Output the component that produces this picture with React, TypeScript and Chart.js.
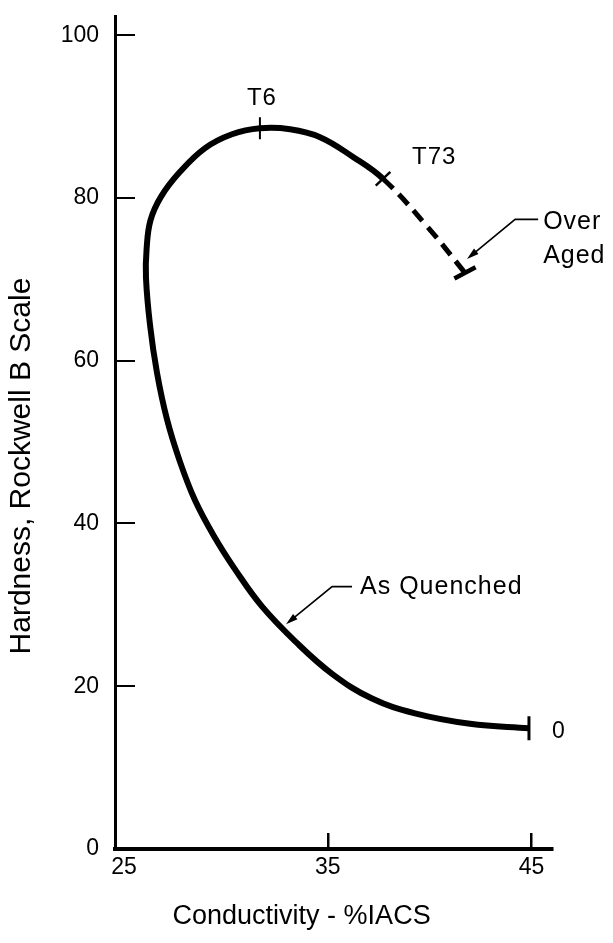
import React, { useEffect, useRef } from "react";
import { Chart, registerables } from "chart.js";

Chart.register(...registerables);

// Curve: from "0" (as quenched) through T6, T73 to over aged
const conductivity = [
  44.87, 41.98, 39.28, 37.17, 35.21, 33.39, 31.77, 30.5, 29.42, 28.49, 27.75, 27.11, 26.62, 26.28,
  26.08, 26.11, 26.3, 26.82, 27.75, 28.98, 30.3, 31.67, 33.15, 34.62, 36.24, 37.71, 39.87, 41.73,
];
const hardness = [
  14.84, 15.39, 16.67, 18.49, 21.53, 25.55, 29.81, 34.18, 38.44, 42.82, 47.57, 52.8, 58.52, 64.36,
  70.19, 73.72, 77.25, 80.17, 83.21, 86.13, 87.83, 88.56, 88.44, 87.47, 85.04, 82.36, 76.52, 70.8,
];

// Temper marks on the curve (indices into the curve arrays)
const temperIndex = [0, 21, 25, 27];
const temperLabels = ["0", "T6", "T73", ""];
const overAgedStart = 25; // dashed from T73 on

const xTicks = [25, 35, 45];
const yTicks = [0, 20, 40, 60, 80, 100];

const xTitle = "Conductivity - %IACS";
const yTitle = "Hardness, Rockwell B Scale";

// Leader annotations (data coordinates)
const leaderTexts = [["Over", "Aged"], ["As Quenched"]];
const leaderTip = [[41.83, 72.51], [32.95, 27.62]];
const leaderElbow = [[44.19, 77.37], [35.21, 32.24]];
const leaderEnd = [45.32, 36.19];

const FONT = '"Liberation Sans", Arial, Helvetica, sans-serif';

const markerRadius = [12, 11, 10, 12];
const markerRotation = [90, 90, -43, -28];
const markerWidth = [3, 2, 2.5, 4.5];

const labelStyle = [
  { dx: 23, dy: 3, align: "left", size: 23 },
  { dx: 2, dy: -30, align: "center", size: 24 },
  { dx: 29, dy: -21, align: "left", size: 24 },
  { dx: 0, dy: 0, align: "left", size: 24 },
];
const leaderTextOffset = [
  { dx: 5, dy: 3, gap: 34 },
  { dx: 8, dy: 0, gap: 0 },
];

const annotationPlugin = {
  id: "annotations",
  afterDatasetsDraw(chart: any) {
    const { ctx, chartArea } = chart;
    const xs = chart.scales.x;
    const ys = chart.scales.y;
    ctx.save();
    ctx.fillStyle = "#000";
    ctx.strokeStyle = "#000";
    ctx.textBaseline = "middle";

    temperIndex.forEach((idx, k) => {
      const t = temperLabels[k];
      if (!t) return;
      const st = labelStyle[k];
      const px = xs.getPixelForValue(conductivity[idx]);
      const py = ys.getPixelForValue(hardness[idx]);
      ctx.font = `${st.size}px ${FONT}`;
      (ctx as any).letterSpacing = t === "0" ? "0px" : "1px";
      ctx.textAlign = st.align;
      ctx.fillText(t, px + st.dx, py + st.dy);
    });

    leaderTexts.forEach((lines, k) => {
      const tx = xs.getPixelForValue(leaderTip[k][0]);
      const ty = ys.getPixelForValue(leaderTip[k][1]);
      const ex = xs.getPixelForValue(leaderElbow[k][0]);
      const ey = ys.getPixelForValue(leaderElbow[k][1]);
      const nx = xs.getPixelForValue(leaderEnd[k]);
      ctx.lineWidth = 1.6;
      ctx.beginPath();
      ctx.moveTo(nx, ey);
      ctx.lineTo(ex, ey);
      const ang = Math.atan2(ty - ey, tx - ex);
      const L = 12;
      const W = 3.5;
      ctx.lineTo(tx - Math.cos(ang) * (L - 2), ty - Math.sin(ang) * (L - 2));
      ctx.stroke();
      ctx.beginPath();
      ctx.moveTo(tx, ty);
      ctx.lineTo(tx - L * Math.cos(ang) + W * Math.sin(ang), ty - L * Math.sin(ang) - W * Math.cos(ang));
      ctx.lineTo(tx - L * Math.cos(ang) - W * Math.sin(ang), ty - L * Math.sin(ang) + W * Math.cos(ang));
      ctx.closePath();
      ctx.fill();
      const o = leaderTextOffset[k];
      ctx.font = `25px ${FONT}`;
      (ctx as any).letterSpacing = "1px";
      ctx.textAlign = "left";
      lines.forEach((line, j) => ctx.fillText(line, nx + o.dx, ey + o.dy + j * o.gap));
    });

    (ctx as any).letterSpacing = "0px";
    ctx.font = `27px ${FONT}`;
    ctx.textAlign = "center";
    ctx.fillText(xTitle, chartArea.left + 0.427 * (chartArea.right - chartArea.left), 917);
    ctx.translate(22, chartArea.top + 0.54 * (chartArea.bottom - chartArea.top));
    ctx.rotate(-Math.PI / 2);
    ctx.font = `30px ${FONT}`;
    ctx.fillText(yTitle, 0, 0);
    ctx.restore();
  },
};

export default function App() {
  const ref = useRef<HTMLCanvasElement | null>(null);
  useEffect(() => {
    if (!ref.current) return;
    const chart = new Chart(ref.current, {
      type: "scatter",
      data: {
        datasets: [
          {
            label: "Hardness",
            data: conductivity.map((c, i) => ({ x: c, y: hardness[i] })),
            showLine: true,
            borderColor: "#000",
            backgroundColor: "#000",
            borderWidth: 6,
            pointRadius: 0,
            tension: 0.4,
            fill: false,
            segment: {
              borderDash: (c: any) => (c.p0DataIndex >= overAgedStart ? [14, 8] : undefined),
              borderWidth: (c: any) => (c.p0DataIndex >= overAgedStart ? 5 : 6),
            },
          } as any,
          {
            label: "Tempers",
            data: temperIndex.map((i) => ({ x: conductivity[i], y: hardness[i] })),
            showLine: false,
            pointStyle: "line",
            pointRadius: markerRadius,
            pointRotation: markerRotation,
            pointBorderWidth: markerWidth,
            pointBorderColor: "#000",
            pointBackgroundColor: "#000",
          } as any,
        ],
      },
      options: {
        responsive: false,
        animation: false,
        devicePixelRatio: 1,
        events: [],
        layout: { padding: { top: 8, right: 61, bottom: 0, left: 0 } },
        plugins: { legend: { display: false }, tooltip: { enabled: false } },
        scales: {
          x: {
            type: "linear",
            min: 24.56,
            max: 46,
            afterBuildTicks: (ax: any) => {
              ax.ticks = xTicks.map((v) => ({ value: v }));
            },
            afterFit: (s: any) => {
              s.height = 94;
              s.paddingLeft = 0;
              s.paddingRight = 0;
            },
            border: { display: true, color: "#000", width: 4 },
            grid: {
              drawOnChartArea: false,
              drawTicks: true,
              tickLength: -16,
              lineWidth: 2.5,
              color: (c: any) => (c.tick && c.tick.value === 25 ? "rgba(0,0,0,0)" : "#000"),
            },
            ticks: {
              padding: 21,
              color: "#000",
              font: { family: FONT, size: 23 },
              callback: (v: any) => String(v),
            },
          },
          y: {
            type: "linear",
            min: 0,
            max: 102.3,
            afterBuildTicks: (ax: any) => {
              ax.ticks = yTicks.map((v) => ({ value: v }));
            },
            afterFit: (s: any) => {
              s.width = 115;
              s.paddingTop = 0;
              s.paddingBottom = 0;
            },
            border: { display: true, color: "#000", width: 3 },
            grid: {
              drawOnChartArea: false,
              drawTicks: true,
              tickLength: -20,
              lineWidth: 2,
              color: (c: any) => (c.tick && c.tick.value === 0 ? "rgba(0,0,0,0)" : "#000"),
            },
            ticks: {
              padding: 36,
              color: "#000",
              font: { family: FONT, size: 23 },
              callback: (v: any) => String(v),
            },
          },
        },
      } as any,
      plugins: [annotationPlugin as any],
    });
    return () => chart.destroy();
  }, []);
  return (
    <div style={{ position: "absolute", left: 0, top: 0, width: 613, height: 943, background: "#fff" }}>
      <canvas ref={ref} width={613} height={943} style={{ display: "block" }} />
    </div>
  );
}
